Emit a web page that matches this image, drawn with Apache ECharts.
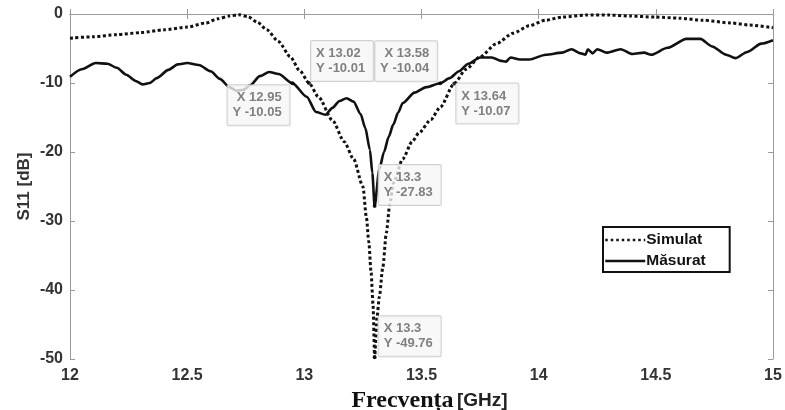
<!DOCTYPE html>
<html>
<head>
<meta charset="utf-8">
<script src="https://cdn.jsdelivr.net/npm/echarts@6/dist/echarts.min.js"></script>
<style>html,body{margin:0;padding:0;background:#fff}#c{width:785px;height:410px}</style>
</head>
<body>
<div id="c"></div>
<script>
// Simulated S11 (dotted)
const simFreq = [12.00,12.10,12.20,12.30,12.40,12.50,12.58,12.63,12.68,12.72,12.76,12.80,12.84,12.89,12.94,12.98,13.02,13.06,13.12,13.17,13.21,13.25,13.265,13.275,13.285,13.293,13.300,13.310,13.320,13.335,13.350,13.365,13.38,13.42,13.46,13.49,13.54,13.58,13.64,13.69,13.75,13.82,13.89,13.96,14.03,14.10,14.20,14.30,14.39,14.50,14.60,14.70,14.82,14.90,15.00];
const simS11  = [-3.5,-3.3,-3.0,-2.7,-2.3,-1.9,-1.3,-0.7,-0.3,-0.1,-0.4,-1.2,-2.3,-4.0,-6.2,-8.2,-10.01,-12.0,-15.4,-18.5,-21.0,-25.0,-29.5,-33.0,-37.5,-42.0,-49.76,-44.0,-41.0,-36.7,-31.7,-27.5,-24.5,-21.0,-18.5,-17.2,-15.3,-13.5,-10.07,-8.0,-6.2,-4.3,-2.8,-1.7,-0.9,-0.45,-0.15,-0.15,-0.3,-0.45,-0.6,-0.9,-1.3,-1.6,-2.0];
// Measured S11 (solid)
const measFreq = [12.00,12.05,12.11,12.16,12.20,12.24,12.28,12.31,12.34,12.37,12.42,12.46,12.50,12.55,12.60,12.64,12.68,12.71,12.74,12.77,12.81,12.85,12.89,12.95,13.01,13.05,13.09,13.12,13.15,13.18,13.21,13.24,13.26,13.28,13.29,13.30,13.32,13.34,13.36,13.38,13.40,13.42,13.47,13.52,13.58,13.62,13.66,13.70,13.75,13.80,13.84,13.86,13.88,13.92,13.96,14.03,14.10,14.14,14.18,14.20,14.21,14.23,14.25,14.29,14.35,14.40,14.45,14.48,14.55,14.63,14.69,14.74,14.80,14.84,14.89,14.95,15.00];
const measS11  = [-9.1,-8.0,-7.1,-7.2,-7.8,-8.8,-9.7,-10.2,-10.0,-9.3,-8.1,-7.3,-7.1,-7.4,-8.3,-9.4,-10.6,-11.1,-11.0,-10.3,-9.0,-8.4,-8.7,-10.05,-12.0,-14.2,-14.6,-13.6,-12.6,-12.2,-12.7,-14.5,-16.5,-19.7,-23.0,-27.83,-22.5,-20.0,-17.8,-16.0,-14.3,-12.9,-11.4,-10.6,-10.04,-9.3,-8.3,-7.2,-6.3,-6.3,-6.8,-6.9,-6.3,-6.6,-6.6,-5.9,-5.6,-5.1,-5.7,-5.9,-5.1,-5.7,-5.1,-5.6,-5.1,-5.8,-5.6,-5.9,-4.9,-3.6,-3.6,-4.7,-5.9,-6.4,-5.5,-4.3,-3.8];
// Data tips
const tipX = [12.95, 13.02, 13.58, 13.64, 13.30, 13.30];
const tipY = [-10.05, -10.01, -10.04, -10.07, -27.83, -49.76];
const tipText = [['12.95','-10.05'],['13.02','-10.01'],['13.58','-10.04'],['13.64','-10.07'],['13.3','-27.83'],['13.3','-49.76']];
const xTicks = [12, 12.5, 13, 13.5, 14, 14.5, 15];
const yTicks = [-50, -40, -30, -20, -10, 0];

const tipPlace = [
  {position:[-1,4], align:'right', verticalAlign:'top'},
  {position:[4,0], align:'left', verticalAlign:'bottom'},
  {position:[-1,0], align:'right', verticalAlign:'bottom'},
  {position:[4,2], align:'left', verticalAlign:'top'},
  {position:[6,1], align:'left', verticalAlign:'bottom'},
  {position:[6,1], align:'left', verticalAlign:'bottom'}
];

const chart = echarts.init(document.getElementById('c'), null, {renderer:'canvas'});
const axisCommon = {
  type:'value', min:12, max:15, interval:0.5,
  axisLine:{show:true, lineStyle:{color:'#9a9a9a', width:1}},
  axisTick:{show:true, inside:true, length:5, lineStyle:{color:'#9a9a9a'}},
  splitLine:{show:false}
};
const yCommon = {
  type:'value', min:-50, max:0, interval:10,
  axisLine:{show:true, lineStyle:{color:'#9a9a9a', width:1}},
  axisTick:{show:true, inside:true, length:5, lineStyle:{color:'#9a9a9a'}},
  splitLine:{show:false}
};
chart.setOption({
  animation:false,
  backgroundColor:'#fff',
  grid:{left:70, right:12, top:14, bottom:51, containLabel:false, outerBoundsMode:'none'},
  xAxis:[
    Object.assign({}, axisCommon, {
      position:'bottom',
      axisLabel:{show:true, margin:9, color:'#333', fontSize:16, fontWeight:'bold', fontFamily:'Liberation Sans, Arial, sans-serif',
        formatter: v => xTicks.indexOf(v) >= 0 ? String(v) : ''},
      name:'{t|Frecvența} {a|[GHz]}',
      nameLocation:'middle', nameGap:27,
      nameTextStyle:{padding:[0,0,0,16], rich:{
        t:{fontFamily:'Liberation Serif, Times New Roman, serif', fontWeight:'bold', fontSize:24, color:'#111'},
        a:{fontFamily:'Liberation Sans, Arial, sans-serif', fontWeight:'bold', fontSize:19, color:'#222'}
      }}
    }),
    Object.assign({}, axisCommon, {position:'top', axisLabel:{show:false}})
  ],
  yAxis:[
    Object.assign({}, yCommon, {
      position:'left',
      axisLabel:{show:true, margin:7, color:'#333', fontSize:16, fontWeight:'bold', fontFamily:'Liberation Sans, Arial, sans-serif',
        formatter: v => yTicks.indexOf(v) >= 0 ? String(v) : ''},
      name:'S11 [dB]', nameLocation:'middle', nameGap:37, nameRotate:90, nameMoveOverlap:false,
      nameTextStyle:{fontFamily:'Liberation Sans, Arial, sans-serif', fontWeight:'bold', fontSize:17, color:'#333'}
    }),
    Object.assign({}, yCommon, {position:'right', axisLabel:{show:false}})
  ],
  legend:{
    left:603, top:227, orient:'vertical',
    itemWidth:40, itemHeight:14, itemGap:5,
    padding:[5,24,3,1],
    borderColor:'#111', borderWidth:2, backgroundColor:'#fff',
    itemStyle:{opacity:0},
    textStyle:{fontFamily:'Liberation Sans, Arial, sans-serif', fontWeight:'bold', fontSize:15.5, color:'#111', padding:[0,0,0,-4]},
    data:[
      {name:'Simulat', lineStyle:{width:2.5, type:[2.5,3], color:'#111'}},
      {name:'Măsurat', lineStyle:{width:2.5, type:'solid', color:'#111'}}
    ]
  },
  series:[
    {
      name:'Simulat', type:'line', xAxisIndex:0, yAxisIndex:0, zlevel:0,
      data: simFreq.map((f,i)=>[f, simS11[i]]),
      showSymbol:false, symbol:'none', smooth:0.25, smoothMonotone:'x',
      lineStyle:{color:'#111', width:3, type:[3,2.5]},
      itemStyle:{color:'#111'},
      z:3
    },
    {
      name:'Măsurat', type:'line', xAxisIndex:0, yAxisIndex:0, zlevel:0,
      data: measFreq.map((f,i)=>[f, measS11[i]]),
      showSymbol:false, symbol:'none', smooth:0.25, smoothMonotone:'x',
      lineStyle:{color:'#111', width:2.6, type:'solid'},
      itemStyle:{color:'#111'},
      z:4
    },
    {
      name:'tips', type:'scatter', xAxisIndex:0, yAxisIndex:0,
      symbolSize:4, itemStyle:{color:'#000'}, z:50, zlevel:2, silent:true,
      data: tipX.map((x,i)=>({
        value:[x, tipY[i]],
        label:Object.assign({
          show:true,
          formatter:'X ' + tipText[i][0] + '\nY ' + tipText[i][1],
          backgroundColor:'#f6f6f6', borderColor:'#c4c4c4', borderWidth:1, borderRadius:1,
          padding:[5,8,5,5], lineHeight:15,
          fontFamily:'Liberation Sans, Arial, sans-serif', fontWeight:'bold', fontSize:13, color:'#626262'
        }, tipPlace[i])
      }))
    }
  ]
});
</script>
</body>
</html>
